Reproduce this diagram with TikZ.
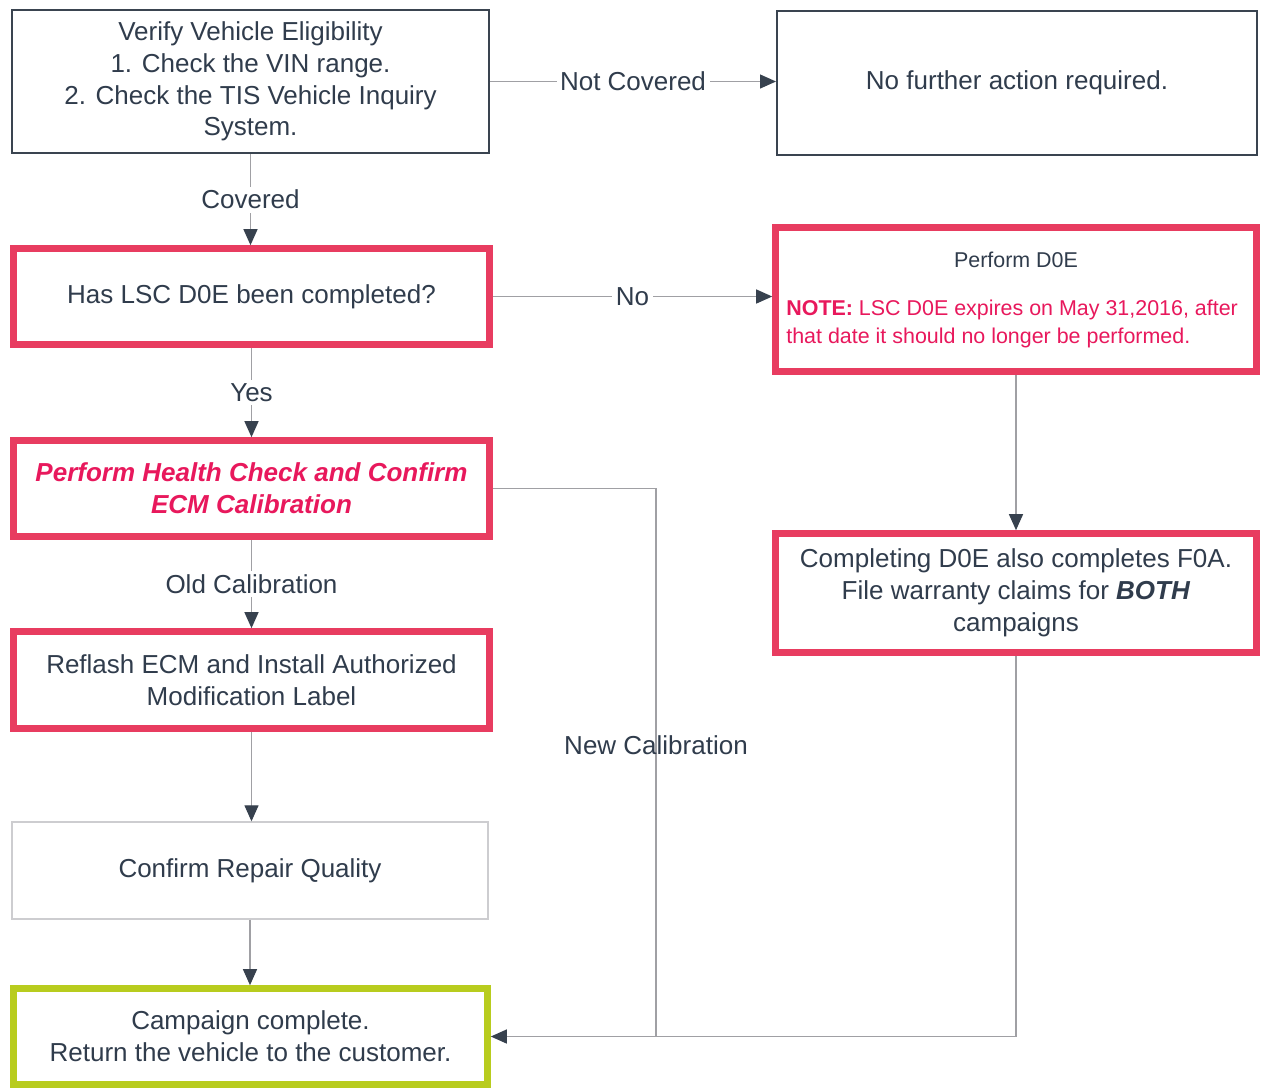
\documentclass[tikz,border=0pt]{standalone}
\usepackage{fontspec}
\setmainfont{Liberation Sans}
\usetikzlibrary{arrows.meta}
\definecolor{txt}{RGB}{48,60,76}
\definecolor{boxc}{RGB}{58,68,80}
\definecolor{redc}{RGB}{232,60,96}
\definecolor{redt}{RGB}{232,24,92}
\definecolor{greenc}{RGB}{184,204,30}
\definecolor{linec}{RGB}{160,160,164}
\definecolor{arrc}{RGB}{55,65,78}
\definecolor{lightc}{RGB}{205,205,208}
\begin{document}
\begin{tikzpicture}[x=0.02cm,y=-0.02cm,
  font=\fontsize{14.8}{18.1}\selectfont, text=txt,
  plainbox/.style={draw=boxc, line width=1.2pt, fill=white, inner sep=0pt, align=center},
  lightbox/.style={draw=lightc, line width=0.8pt, fill=white, inner sep=0pt, align=center},
  redbox/.style={draw=redc, line width=3.8pt, fill=white, inner sep=0pt, align=center},
  greenbox/.style={draw=greenc, line width=3.8pt, fill=white, inner sep=0pt, align=center},
  link/.style={draw=linec, line width=0.7pt},
  arr/.style={link, -{Triangle[length=0.32cm,width=0.28cm,color=arrc]}},
  lbl/.style={fill=white, inner sep=2pt}]
\useasboundingbox[fill=white] (0,0) rectangle (1261,1090);

% nodes
\node[plainbox, minimum width=9.54cm, minimum height=2.86cm] (verify) at (250.5,81.5)
  {Verify Vehicle Eligibility\\1. Check the VIN range.\\2. Check the TIS Vehicle Inquiry\\System.};
\node[plainbox, minimum width=9.6cm, minimum height=2.88cm] (nofurther) at (1017,83)
  {No further action required.};
\node[redbox, minimum width=9.52cm, minimum height=1.92cm] (hasd0e) at (251.5,296.5)
  {Has LSC D0E been completed?};
\node[redbox, minimum width=9.62cm, minimum height=2.88cm] (performd0e) at (1016,299.5) {};
\node[font=\fontsize{12.2}{14}\selectfont] (d0etitle) at (1016,260) {Perform D0E};
\node[anchor=west, align=left, inner sep=0pt, text=redt, font=\fontsize{12.2}{15.6}\selectfont] (d0enote) at (786,324)
  {\textbf{NOTE:} LSC D0E expires on May 31,2016, after\\that date it should no longer be performed.};
\node[redbox, minimum width=9.52cm, minimum height=1.92cm, text=redt, font=\fontsize{14.8}{18.1}\selectfont\bfseries\itshape] (health) at (251.5,488.5)
  {Perform Health Check and Confirm\\ECM Calibration};
\node[redbox, minimum width=9.52cm, minimum height=1.94cm] (reflash) at (251.5,680)
  {Reflash ECM and Install Authorized\\Modification Label};
\node[lightbox, minimum width=9.52cm, minimum height=1.94cm] (confirm) at (250,870.5)
  {Confirm Repair Quality};
\node[greenbox, minimum width=9.48cm, minimum height=1.92cm] (campaign) at (250.5,1036.5)
  {Campaign complete.\\Return the vehicle to the customer.};
\node[redbox, minimum width=9.62cm, minimum height=2.38cm] (completing) at (1016,593)
  {Completing D0E also completes F0A.\\File warranty claims for \textbf{\textit{BOTH}}\\campaigns};

% connectors
\draw[arr] (verify.east) -- node[lbl] {Not Covered} (verify.east -| nofurther.west);
\draw[arr] (verify.south) -- node[lbl] {Covered} (verify.south |- hasd0e.north);
\draw[arr] (hasd0e.east) -- node[lbl] {No} (hasd0e.east -| performd0e.west);
\draw[arr] (hasd0e.south) -- node[lbl] {Yes} (health.north);
\draw[arr] (health.south) -- node[lbl] {Old Calibration} (reflash.north);
\draw[arr] (reflash.south) -- (reflash.south |- confirm.north);
\draw[arr] (confirm.south) -- (confirm.south |- campaign.north);
\draw[arr] (performd0e.south) -- (completing.north);
\coordinate (jn) at (656,1036.5);
\draw[link] (health.east) -| (jn);
\draw[arr] (completing.south) |- (campaign.east);
\node (newcal) at (656,745) {New Calibration};
\end{tikzpicture}
\end{document}
